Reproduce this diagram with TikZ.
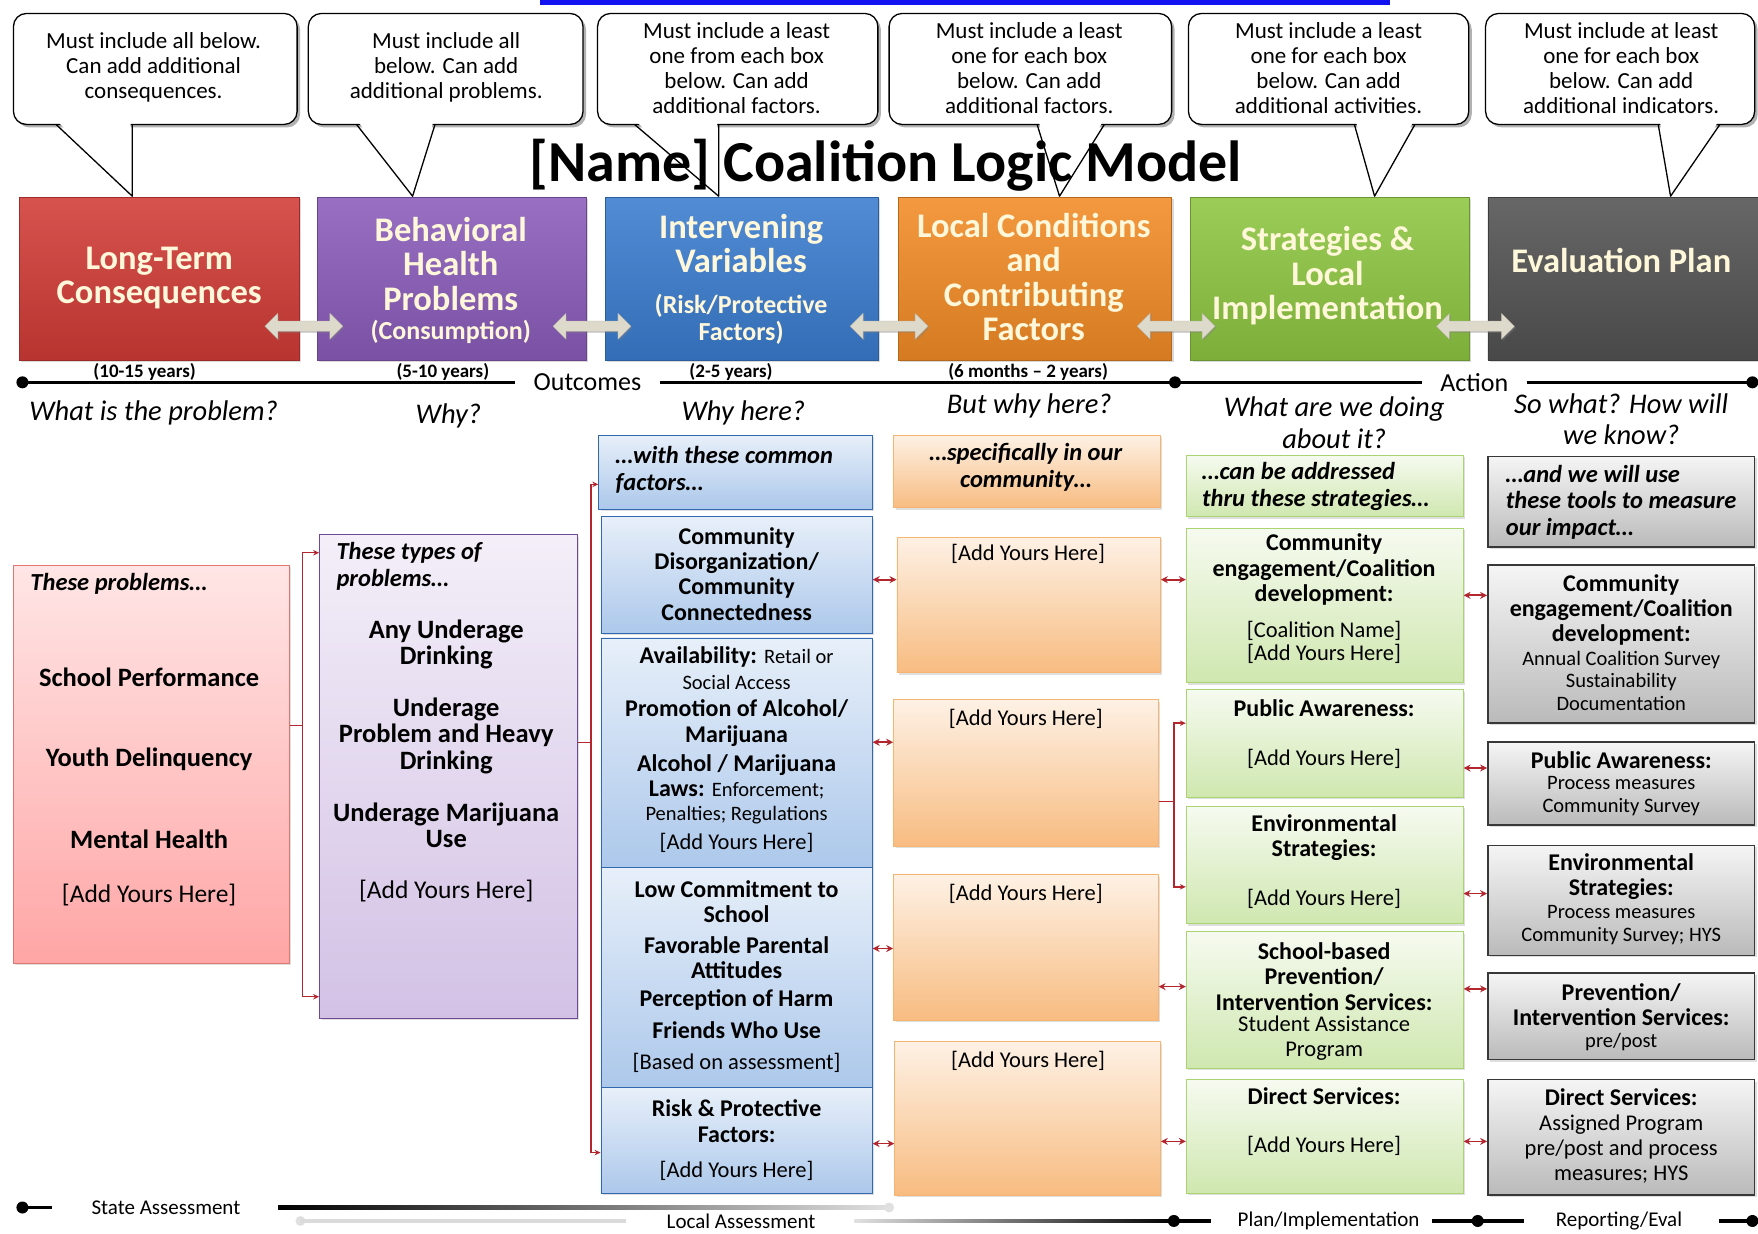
\documentclass[tikz,border=0pt]{standalone}
\usepackage{fontspec}
\setmainfont{Carlito}
\usetikzlibrary{shapes.arrows, arrows.meta, positioning, calc, fit, shadows}

\definecolor{hred}{HTML}{D13B36}
\definecolor{hpurple}{HTML}{8A5CBA}
\definecolor{hblue}{HTML}{3A7CCF}
\definecolor{horange}{HTML}{F28B25}
\definecolor{hgreen}{HTML}{8DC641}
\definecolor{hgray}{HTML}{525252}
\definecolor{cream}{HTML}{FFF7DA}
\definecolor{fatarr}{HTML}{DEDACB}
\definecolor{lnkred}{HTML}{B3262E}
\definecolor{linkblue}{HTML}{1212F0}

\begin{document}
\begin{tikzpicture}[
  x=1.1212pt, y=-1.1212pt,
  bubble/.style={draw, line width=1.3pt, fill=white, rounded corners=13pt, inner sep=0pt,
    drop shadow={shadow xshift=3pt, shadow yshift=-3pt, fill=black!55, opacity=.55}},
  bubtxt/.style={font=\fontsize{23}{25}\selectfont, align=center, inner sep=0pt},
  tail/.style={line width=1.3pt, line join=round},
  head/.style={inner sep=0pt, draw=#1!75!black, line width=.5pt, top color=#1!88!white, bottom color=#1!88!black,
    drop shadow={shadow xshift=2pt, shadow yshift=-2pt, opacity=.3}},
  headtxt/.style={text=cream, align=center, font=\fontsize{34.5}{34.5}\selectfont\bfseries, inner sep=0pt},
  fat/.style={double arrow, fill=fatarr, draw=fatarr!80!black, line width=.3pt, inner sep=4.5pt,
    minimum height=78pt, minimum width=26pt, double arrow head extend=7pt,
    drop shadow={shadow xshift=1.5pt, shadow yshift=-1.5pt, opacity=.35}},
  tline/.style={line width=3.2pt},
  dot/.style={circle, fill=black, inner sep=0pt, minimum size=12pt},
  years/.style={font=\fontsize{19}{19}\selectfont\bfseries, inner sep=0pt},
  ask/.style={font=\fontsize{28.5}{31.4}\selectfont\itshape, align=center, inner sep=0pt},
  cell/.style={inner sep=0pt, line width=.8pt, drop shadow={shadow xshift=2pt, shadow yshift=-2pt, opacity=.25}},
  redcell/.style={cell, draw=hred!70!white, top color=red!10!white, bottom color=red!35!white},
  purcell/.style={cell, draw=hpurple!80!black, top color=hpurple!10!white, bottom color=hpurple!38!white},
  bluecell/.style={cell, draw=hblue!85!black, top color=hblue!12!white, bottom color=hblue!42!white},
  orcell/.style={cell, draw=horange!65!white, top color=horange!12!white, bottom color=horange!58!white},
  grcell/.style={cell, draw=hgreen!75!white, top color=hgreen!8!white, bottom color=hgreen!42!white},
  graycell/.style={cell, draw=black!78, line width=1.5pt, top color=black!4, bottom color=black!27},
  lead/.style={font=\fontsize{24.5}{26.5}\selectfont\bfseries\itshape, align=left, inner sep=0pt, anchor=west},
  bigb/.style={font=\fontsize{26.5}{26.5}\selectfont\bfseries, align=center, inner sep=0pt},
  bigr/.style={font=\fontsize{25.5}{26.5}\selectfont, align=center, inner sep=0pt},
  bt/.style={font=\fontsize{24}{25.2}\selectfont\bfseries, align=center, inner sep=0pt},
  rt/.style={font=\fontsize{22.5}{25}\selectfont, align=center, inner sep=0pt},
  st/.style={font=\fontsize{20.5}{22.5}\selectfont, align=center, inner sep=0pt},
  dbl/.style={arrows={Stealth[length=7pt,width=7pt]-Stealth[length=7pt,width=7pt]}, draw=lnkred, line width=1.7pt},
  brk/.style={draw=lnkred, line width=1.4pt},
  brkarr/.style={brk, arrows={-Stealth[length=6pt,width=5.5pt]}},
  stage/.style={font=\fontsize{21}{22}\selectfont, inner sep=0pt}
]
\useasboundingbox (0,0) rectangle (1568,1100);
\fill[linkblue] (482,0) rectangle (1240,4.5);

\node[head=hred, fit={(17,176) (267,321)}] (h1) {};
\node[head=hpurple, fit={(283,176) (523,321)}] (h2) {};
\node[head=hblue, fit={(540,176) (783,321)}] (h3) {};
\node[head=horange, fit={(801,176) (1045,321)}] (h4) {};
\node[head=hgreen, fit={(1062,176) (1310,321)}] (h5) {};
\node[head=hgray, fit={(1327,176) (1568,321)}] (h6) {};
\node[headtxt] (h1t) at (142,248) {Long-Term\\Consequences};
\node[headtxt] (h2t) at (402,250) {Behavioral\\Health\\Problems\\[-5.5pt]\fontsize{26}{27}\selectfont(Consumption)};
\node[headtxt] (h3t) at (661,249) {Intervening\\Variables\\[6.5pt]\fontsize{26}{27}\selectfont(Risk/Protective\\[-7.5pt]\fontsize{26}{27}\selectfont Factors)};
\node[headtxt] (h4t) at (922,247) {Local Conditions\\and\\Contributing\\Factors};
\node[headtxt] (h5t) at (1184,246) {Strategies \&\\Local\\Implementation};
\node[headtxt] (h6t) at (1446,232) {Evaluation Plan};

\node[fat] (a1) at (271,291) {};
\node[fat] (a2) at (528,291) {};
\node[fat] (a3) at (793,291) {};
\node[fat] (a4) at (1049,291) {};
\node[fat] (a5) at (1316,291) {};

\node[bubble, fit={(12,12) (265,111)}] (c1) {};
\node[bubble, fit={(275,12) (520,111)}] (c2) {};
\node[bubble, fit={(533,12) (783,111)}] (c3) {};
\node[bubble, fit={(793,12) (1045,111)}] (c4) {};
\node[bubble, fit={(1060,12) (1310,111)}] (c5) {};
\node[bubble, fit={(1325,12) (1565,111)}] (c6) {};
\node[bubtxt] (c1t) at (137,60) {Must include all below.\\Can add additional\\consequences.};
\node[bubtxt] (c2t) at (398,60) {Must include all\\below. Can add\\additional problems.};
\node[bubtxt] (c3t) at (657,60.5) {Must include a least\\one from each box\\below. Can add\\additional factors.};
\node[bubtxt] (c4t) at (918,60.5) {Must include a least\\one for each box\\below. Can add\\additional factors.};
\node[bubtxt] (c5t) at (1185,60.5) {Must include a least\\one for each box\\below. Can add\\additional activities.};
\node[bubtxt] (c6t) at (1446,60.5) {Must include at least\\one for each box\\below. Can add\\additional indicators.};

\foreach \lx/\tx/\rx in {50/118/118, 318/368/388, 566/641/641, 925/945/985, 1208/1226/1262, 1479/1490/1534}
  \fill[white] (\lx+1.5,108.5) -- (\tx,175) -- (\rx-1.5,108.5) -- cycle;

\node[font=\fontsize{58}{60}\selectfont\bfseries, inner sep=0pt] (title) at (790,147) {[Name] Coalition Logic Model};

\foreach \lx/\tx/\rx in {50/118/118, 318/368/388, 566/641/641, 925/945/985, 1208/1226/1262, 1479/1490/1534}
  \draw[tail] (\lx,111) -- (\tx,175) -- (\rx,111);

\node[dot] (d0) at (20,341) {};
\node[font=\fontsize{26}{26}\selectfont, inner ysep=0pt, inner xsep=18pt] (outc) at (524,341) {Outcomes};
\node[dot] (d1) at (1048,341) {};
\node[font=\fontsize{26}{26}\selectfont, inner ysep=0pt, inner xsep=18pt] (actn) at (1315,341) {Action};
\node[dot] (d2) at (1563,341) {};
\draw[tline] (d0.center) -- (outc.west);
\draw[tline] (outc.east) -- (d1.center) -- (actn.west);
\draw[tline] (actn.east) -- (d2.center);

\node[years] (y1) at (129,332) {(10-15 years)};
\node[years] (y2) at (395,332) {(5-10 years)};
\node[years] (y3) at (652,332) {(2-5 years)};
\node[years] (y4) at (917,332) {(6 months -- 2 years)};

\node[ask] (q1) at (137,368) {What is the problem?};
\node[ask] (q2) at (400,371) {Why?};
\node[ask] (q3) at (663,368) {Why here?};
\node[ask] (q4) at (918,362) {But why here?};
\node[ask] (q5) at (1190,377) {What are we doing\\about it?};
\node[ask] (q6) at (1446,374) {So what? How will\\we know?};

\node[redcell, fit={(12,504) (258,859)}] (r1) {};
\node[lead] (r1a) at (27,521) {These problems\dots};
\node[bigb] (r1b) at (133,604) {School Performance};
\node[bigb] (r1c) at (133,677) {Youth Delinquency};
\node[bigb] (r1d) at (133,749) {Mental Health};
\node[bigr] (r1e) at (133,798) {[Add Yours Here]};

\node[purcell, fit={(285,477) (515,908)}] (p1) {};
\node[lead] (p1a) at (300,505) {These types of\\problems\dots};
\node[bigb] (p1b) at (398,575) {Any Underage\\Drinking};
\node[bigb] (p1c) at (398,656) {Underage\\Problem and Heavy\\Drinking};
\node[bigb] (p1d) at (398,736) {Underage Marijuana\\Use};
\node[bigr] (p1e) at (398,795) {[Add Yours Here]};

\node[bluecell, fit={(534,388) (778,454)}] (b0) {};
\node[lead] (b0a) at (549,419) {\dots{}with these common\\factors\dots};
\node[bluecell, fit={(536,461) (778,565)}] (b1) {};
\node[bt] (b1a) at (657,512) {Community\\Disorganization/\\Community\\Connectedness};
\node[bluecell, fit={(536,569) (778,774)}] (b2) {};
\node[bt] (b2a) at (657,596) {Availability: \mdseries\fontsize{20.5}{22}\selectfont Retail or\\\mdseries\fontsize{20.5}{22}\selectfont Social Access};
\node[bt] (b2b) at (657,645) {Promotion of Alcohol/\\Marijuana};
\node[bt] (b2c) at (657,704) {Alcohol / Marijuana\\Laws: \mdseries\fontsize{20.5}{22}\selectfont Enforcement;\\[-2pt]\mdseries\fontsize{20.5}{22}\selectfont Penalties; Regulations};
\node[rt] (b2d) at (657,752) {[Add Yours Here]};
\node[bluecell, fit={(536,774) (778,970)}] (b3) {};
\node[bt] (b3a) at (657,804) {Low Commitment to\\School};
\node[bt] (b3b) at (657,854) {Favorable Parental\\Attitudes};
\node[bt] (b3c) at (657,892) {Perception of Harm};
\node[bt] (b3d) at (657,919) {Friends Who Use};
\node[rt] (b3e) at (657,948) {[Based on assessment]};
\node[bluecell, fit={(536,970) (778,1064)}] (b4) {};
\node[bt] (b4a) at (657,1000) {Risk \& Protective\\Factors:};
\node[rt] (b4b) at (657,1044) {[Add Yours Here]};

\node[orcell, fit={(797,388) (1035,453)}] (o0) {};
\node[lead, anchor=center, align=center] (o0a) at (915,417) {\dots{}specifically in our\\community\dots};
\node[orcell, fit={(800,479) (1035,600)}] (o1) {};
\node[rt] (o1a) at (917,494) {[Add Yours Here]};
\node[orcell, fit={(797,624) (1033,755)}] (o2) {};
\node[rt] (o2a) at (915,641) {[Add Yours Here]};
\node[orcell, fit={(797,780) (1033,910)}] (o3) {};
\node[rt] (o3a) at (915,797) {[Add Yours Here]};
\node[orcell, fit={(798,929) (1035,1066)}] (o4) {};
\node[rt] (o4a) at (917,946) {[Add Yours Here]};

\node[grcell, fit={(1058,406) (1305,461)}] (g0) {};
\node[lead] (g0a) at (1072,434) {\dots{}can be addressed\\thru these strategies\dots};
\node[grcell, fit={(1058,471) (1305,609)}] (g1) {};
\node[bt] (g1a) at (1181,508) {Community\\engagement/Coalition\\development:};
\node[rt] (g1b) at (1181,573) {[Coalition Name]\\[-2pt]{}[Add Yours Here]};
\node[grcell, fit={(1058,615) (1305,711)}] (g2) {};
\node[bt] (g2a) at (1181,632) {Public Awareness:};
\node[rt] (g2b) at (1181,677) {[Add Yours Here]};
\node[grcell, fit={(1058,719) (1305,824)}] (g3) {};
\node[bt] (g3a) at (1181,747) {Environmental\\Strategies:};
\node[rt] (g3b) at (1181,802) {[Add Yours Here]};
\node[grcell, fit={(1058,831) (1305,953)}] (g4) {};
\node[bt] (g4a) at (1181,871) {School-based\\Prevention/\\Intervention Services:};
\node[rt] (g4b) at (1181,926) {Student Assistance\\Program};
\node[grcell, fit={(1058,963) (1305,1064)}] (g5) {};
\node[bt] (g5a) at (1181,978) {Direct Services:};
\node[rt] (g5b) at (1181,1022) {[Add Yours Here]};

\node[graycell, fit={(1327,407) (1565,488)}] (e0) {};
\node[lead] (e0a) at (1343,448) {\dots{}and we will use\\these tools to measure\\our impact\dots};
\node[graycell, fit={(1327,504) (1565,645)}] (e1) {};
\node[bt] (e1a) at (1446,544) {Community\\engagement/Coalition\\development:};
\node[st] (e1b) at (1446,607) {Annual Coalition Survey\\Sustainability\\Documentation};
\node[graycell, fit={(1327,662) (1565,736)}] (e2) {};
\node[bt] (e2a) at (1446,678) {Public Awareness:};
\node[st] (e2b) at (1446,710) {Process measures\\Community Survey};
\node[graycell, fit={(1327,754) (1565,852)}] (e3) {};
\node[bt] (e3a) at (1446,782) {Environmental\\Strategies:};
\node[st] (e3b) at (1446,825) {Process measures\\Community Survey; HYS};
\node[graycell, fit={(1327,868) (1565,945)}] (e4) {};
\node[bt] (e4a) at (1446,896) {Prevention/\\Intervention Services:};
\node[st] (e4b) at (1446,929) {pre/post};
\node[graycell, fit={(1327,963) (1565,1066)}] (e5) {};
\node[bt] (e5a) at (1446,979) {Direct Services:};
\node[rt] (e5b) at (1446,1025) {Assigned Program\\pre/post and process\\measures; HYS};

\coordinate (k1) at (270,647);
\draw[brk] (r1.east |- k1) -- (k1);
\draw[brkarr] (k1) |- (p1.west |- 0,493);
\draw[brkarr] (k1) |- (p1.west |- 0,889);
\coordinate (k2) at (527,662);
\draw[brk] (p1.east |- k2) -- (k2);
\draw[brkarr] (k2) |- (b0.west |- 0,432);
\draw[brkarr] (k2) |- (b4.west |- 0,1028);
\coordinate (k3) at (1047,715);
\draw[brk] (o2.east |- k3) -- (k3);
\draw[brkarr] (k3) |- (g2.west |- 0,645);
\draw[brkarr] (k3) |- (g3.west |- 0,791);

\foreach \a/\b/\y in {b1/o1/517, b2/o2/662, b3/o3/846, b4/o4/1020, o1/g1/517, o3/g4/880, o4/g5/1018,
    g1/e1/531, g2/e2/685, g3/e3/797, g4/e4/882, g5/e5/1018}
  \draw[dbl] (\a.east |- 0,\y) -- (\b.west |- 0,\y);

\node[dot] (s0) at (20,1077) {};
\draw[tline] (s0.center) -- ++(26,0);
\node[stage] (st1) at (148,1077) {State Assessment};
\shade[left color=black, right color=black!12] (248,1075.4) rectangle (793,1078.6);
\fill[black!12] (793,1077) circle (5pt);
\fill[black!12] (268,1089) circle (5pt);
\draw[black!14, line width=3.2pt] (268,1089) -- (558,1089);
\node[stage] (st2) at (661,1089) {Local Assessment};
\shade[left color=black!12, right color=black] (762,1087.4) rectangle (1047,1090.6);
\node[dot] (s1) at (1047,1089) {};
\draw[tline] (s1.center) -- ++(33,0);
\node[stage] (st3) at (1185,1089) {Plan/Implementation};
\node[dot] (s2) at (1318,1089) {};
\draw[tline] ($(s2.center)+(-41,0)$) -- ($(s2.center)+(41,0)$);
\node[stage] (st4) at (1444,1089) {Reporting/Eval};
\node[dot] (s3) at (1563,1089) {};
\draw[tline] ($(s3.center)+(-30,0)$) -- (s3.center);
\end{tikzpicture}
\end{document}
